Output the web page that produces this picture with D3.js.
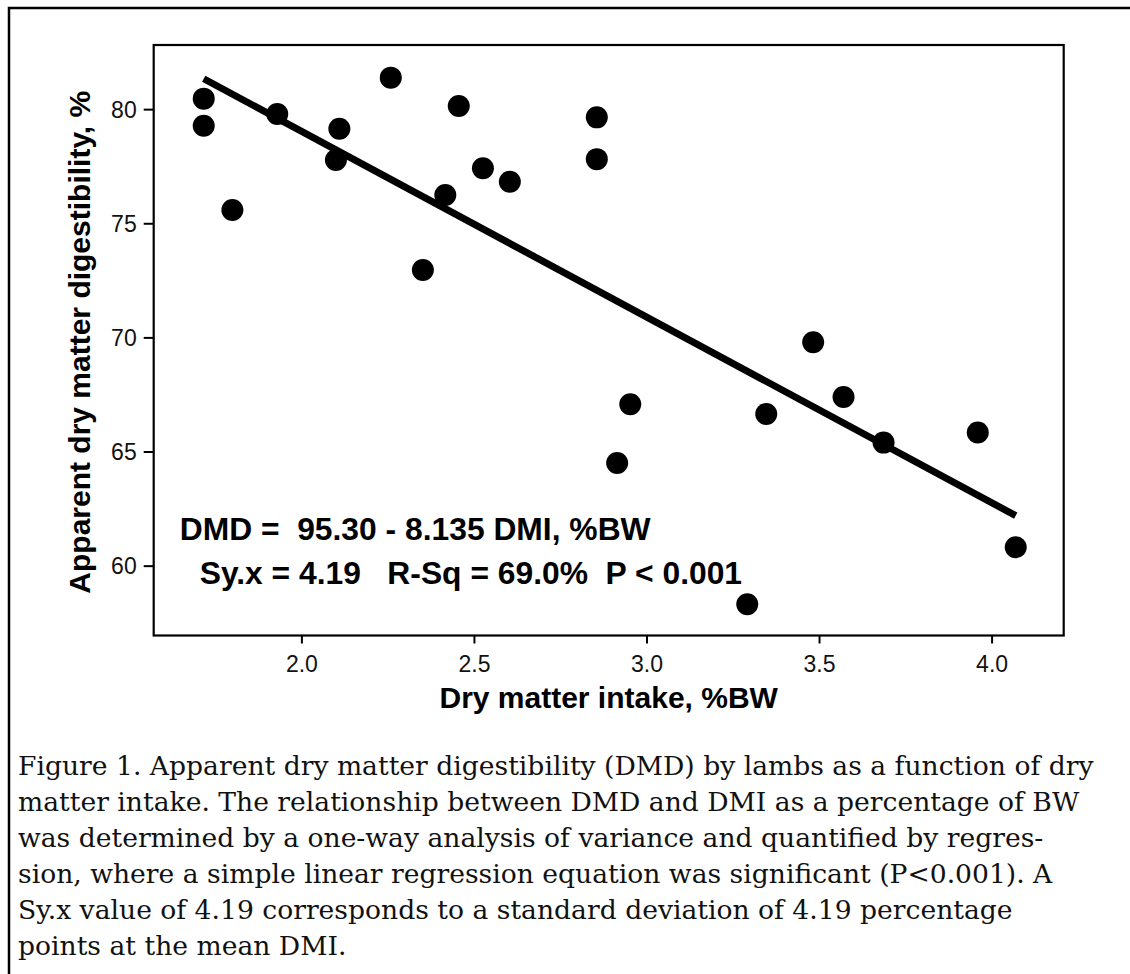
<!DOCTYPE html>
<html>
<head>
<meta charset="utf-8">
<script src="https://cdn.jsdelivr.net/npm/d3@7"></script>
<style>
  body { margin: 0; background: #fff; }
  svg { display: block; }
  text { white-space: pre; }
</style>
</head>
<body>
<div class="chart"></div>
<script>

// values
const dmi = [1.717, 1.717, 1.800, 1.930, 2.110, 2.100, 2.259, 2.456, 2.856, 2.856, 2.526, 2.604,
  2.417, 2.352, 3.483, 3.571, 2.953, 3.347, 2.915, 3.292, 3.687, 3.960, 4.070]
const dmd = [80.46, 79.27, 75.58, 79.79, 79.14, 77.77, 81.38, 80.14, 79.64, 77.81, 77.41, 76.82,
  76.24, 72.95, 69.79, 67.39, 67.07, 66.64, 64.50, 58.31, 65.39, 65.83, 60.81]

const intercept = 95.30
const slope = -8.135

const xTicks = [2.0, 2.5, 3.0, 3.5, 4.0]
const yTicks = [60, 65, 70, 75, 80]

const eqLines = [
  'DMD =  95.30 - 8.135 DMI, %BW',
  'Sy.x = 4.19   R-Sq = 69.0%  P < 0.001'
]

const captionLines = [
  'Figure 1. Apparent dry matter digestibility (DMD) by lambs as a function of dry',
  'matter intake. The relationship between DMD and DMI as a percentage of BW',
  'was determined by a one-way analysis of variance and quantified by regres-',
  'sion, where a simple linear regression equation was significant (P<0.001). A',
  'Sy.x value of 4.19 corresponds to a standard deviation of 4.19 percentage',
  'points at the mean DMI.'
]

const width = 1130
const height = 974

const margin = {top: 45, right: 66.3, bottom: 338.5, left: 153.7}

const sans = '"Liberation Sans", Arial, sans-serif'

const svg = d3.select('.chart')
  .append('svg')
  .attr('width', width)
  .attr('height', height)

// outer box, runs off the right and bottom of the page
svg.append('rect')
  .attr('x', 9)
  .attr('y', 8)
  .attr('width', width + 20)
  .attr('height', height + 20)
  .attr('fill', 'none')
  .attr('stroke', '#000')
  .attr('stroke-width', 2.5)

const x = d3.scaleLinear()
  .domain([1.572, 4.209])
  .range([margin.left, width - margin.right])

const y = d3.scaleLinear()
  .domain([56.94, 82.81])
  .range([height - margin.bottom, margin.top])

const xAxis = svg.append('g')
  .attr('transform', `translate(0,${height - margin.bottom})`)
  .call(d3.axisBottom(x).tickValues(xTicks).tickFormat(d3.format('.1f')).tickSize(8))

xAxis.select('.domain').remove()
xAxis.selectAll('line').attr('stroke-width', 2)
xAxis.selectAll('text')
  .attr('y', 36)
  .attr('dy', 0)
  .attr('font-family', sans)
  .attr('font-size', 23)
  .attr('fill', '#111')

const yAxis = svg.append('g')
  .attr('transform', `translate(${margin.left},0)`)
  .call(d3.axisLeft(y).tickValues(yTicks).tickSize(10))

yAxis.select('.domain').remove()
yAxis.selectAll('line').attr('stroke-width', 2)
yAxis.selectAll('text')
  .attr('x', -17)
  .attr('dy', '0.36em')
  .attr('font-family', sans)
  .attr('font-size', 23)
  .attr('fill', '#111')

// plot frame
svg.append('rect')
  .attr('x', margin.left)
  .attr('y', margin.top)
  .attr('width', width - margin.left - margin.right)
  .attr('height', height - margin.top - margin.bottom)
  .attr('fill', 'none')
  .attr('stroke', '#000')
  .attr('stroke-width', 2.2)

// fitted line over the range of the data
const xExt = d3.extent(dmi)
const line = d3.line()
  .x(d => x(d))
  .y(d => y(intercept + slope * d))

svg.append('path')
  .datum(xExt)
  .attr('d', line)
  .attr('fill', 'none')
  .attr('stroke', '#000')
  .attr('stroke-width', 7)

svg.append('g')
  .selectAll('circle')
  .data(dmi.map((d, i) => [d, dmd[i]]))
  .join('circle')
  .attr('cx', d => x(d[0]))
  .attr('cy', d => y(d[1]))
  .attr('r', 11)
  .attr('fill', '#000')

// regression text
svg.append('g')
  .selectAll('text')
  .data(eqLines)
  .join('text')
  .attr('x', (d, i) => i === 0 ? margin.left + 26 : margin.left + 46)
  .attr('y', (d, i) => 540 + i * 44)
  .attr('font-family', sans)
  .attr('font-size', 31.8)
  .attr('font-weight', 'bold')
  .text(d => d)

// axis titles
svg.append('text')
  .attr('x', (margin.left + width - margin.right) / 2)
  .attr('y', 708)
  .attr('text-anchor', 'middle')
  .attr('font-family', sans)
  .attr('font-size', 30)
  .attr('font-weight', 'bold')
  .text('Dry matter intake, %BW')

svg.append('text')
  .attr('transform', `translate(90,${(margin.top + height - margin.bottom) / 2 + 2}) rotate(-90)`)
  .attr('text-anchor', 'middle')
  .attr('font-family', sans)
  .attr('font-size', 30)
  .attr('font-weight', 'bold')
  .text('Apparent dry matter digestibility, %')

// caption
svg.append('g')
  .selectAll('text')
  .data(captionLines)
  .join('text')
  .attr('x', 18)
  .attr('y', (d, i) => 775 + i * 36)
  .attr('font-family', '"DejaVu Serif", serif')
  .attr('font-size', 26.6)
  .attr('fill', '#111')
  .text(d => d)

</script>
</body>
</html>
